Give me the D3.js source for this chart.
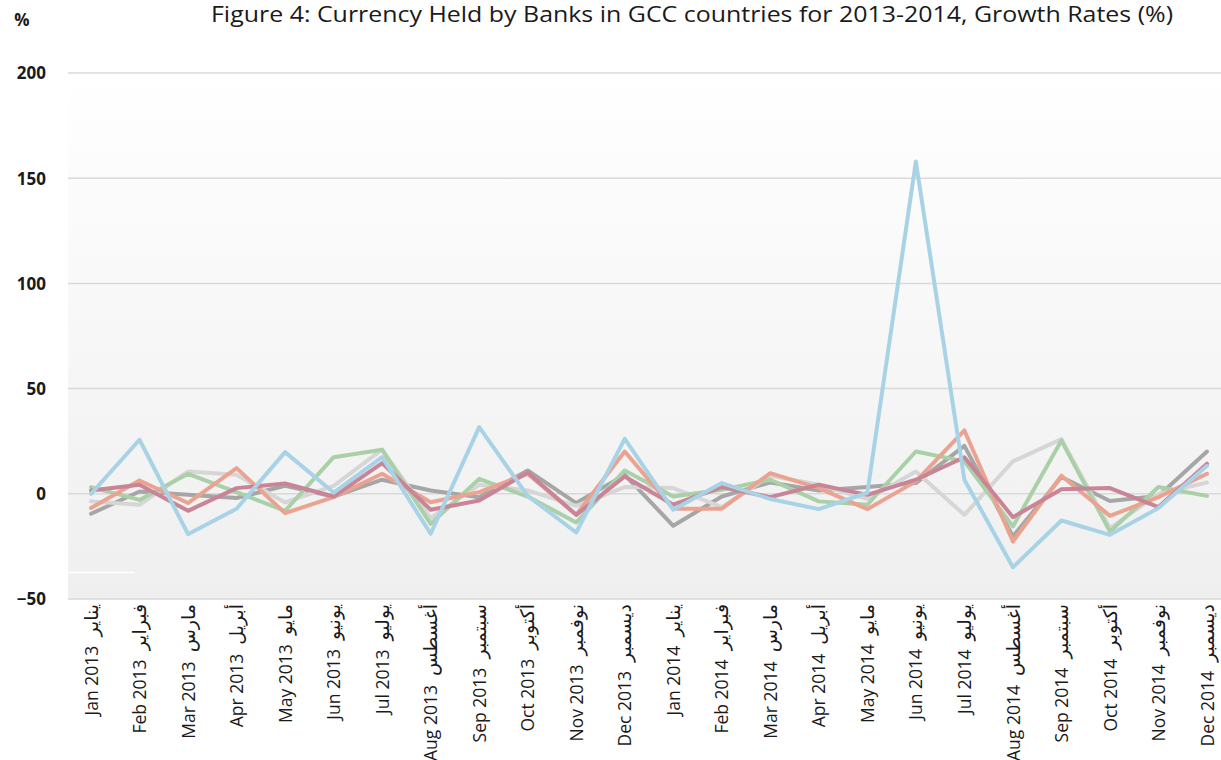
<!DOCTYPE html>
<html>
<head>
<meta charset="utf-8">
<script src="https://cdn.jsdelivr.net/npm/d3@7"></script>
<style>
  html, body { margin: 0; padding: 0; background: #ffffff; }
  svg { display: block; }
</style>
</head>
<body>
<svg id="chart" width="1221" height="760"></svg>
<script>
const title = "Figure 4: Currency Held by Banks in GCC countries for 2013-2014, Growth Rates (%)";
const categoriesEn = ["Jan 2013","Feb 2013","Mar 2013","Apr 2013","May 2013","Jun 2013","Jul 2013","Aug 2013","Sep 2013","Oct 2013","Nov 2013","Dec 2013",
                      "Jan 2014","Feb 2014","Mar 2014","Apr 2014","May 2014","Jun 2014","Jul 2014","Aug 2014","Sep 2014","Oct 2014","Nov 2014","Dec 2014"];
const categoriesAr = ["يناير","فبراير","مارس","أبريل","مايو","يونيو","يوليو","أغسطس","سبتمبر","أكتوبر","نوفمبر","ديسمبر",
                      "يناير","فبراير","مارس","أبريل","مايو","يونيو","يوليو","أغسطس","سبتمبر","أكتوبر","نوفمبر","ديسمبر"];
const yTicks = [-50, 0, 50, 100, 150, 200];

const seriesDarkGray  = [-9.5, 1.1, -0.5, -2.0, 3.8, -1.3, 6.7, 1.6, -1.6, 11.1, -4.4, 9.0, -15.2, -1.3, 5.4, 1.6, 3.2, 5.1, 22.8, -20.3, 8.0, -3.4, -1.0, 20.1];
const seriesLightGray = [-3.6, -5.2, 10.6, 9.0, -4.1, 3.8, 21.0, -11.6, 4.3, 1.6, -5.7, 3.2, 2.7, -6.3, 8.6, 4.3, -2.5, 10.6, -10.0, 15.4, 26.0, -16.3, 0.0, 5.4];
const seriesGreen     = [3.2, -2.9, 9.5, 0.8, -8.1, 17.4, 20.9, -14.3, 7.1, -1.3, -13.6, 11.1, -1.3, 1.9, 6.7, -3.6, -5.2, 20.1, 15.4, -15.5, 25.3, -17.9, 3.2, -1.0];
const seriesOrange    = [-6.8, 6.3, -4.4, 12.2, -9.2, -1.6, 9.5, -4.0, 0.8, 9.5, -10.0, 20.1, -7.1, -7.1, 9.8, 2.7, -7.3, 5.9, 30.1, -22.7, 8.6, -10.5, -1.6, 9.5];
const seriesMauve     = [1.6, 4.3, -8.1, 2.7, 4.9, -1.3, 14.6, -7.6, -3.2, 10.1, -10.0, 8.2, -5.2, 3.2, -1.6, 4.3, -0.5, 6.7, 17.4, -11.1, 2.2, 2.7, -6.3, 14.3];
const seriesBlue      = [0.0, 25.7, -19.2, -7.1, 19.8, 0.6, 17.4, -19.0, 31.7, -1.0, -18.4, 26.1, -7.6, 5.1, -2.5, -7.3, 0.5, 157.9, 6.7, -34.9, -12.7, -19.5, -6.8, 13.3];

const series = [
  {name: "darkgray",  values: seriesDarkGray,  color: "#a6a6a6"},
  {name: "lightgray", values: seriesLightGray, color: "#d6d6d6"},
  {name: "green",     values: seriesGreen,     color: "#a9d0a7"},
  {name: "orange",    values: seriesOrange,    color: "#eba391"},
  {name: "mauve",     values: seriesMauve,     color: "#c98597"},
  {name: "blue",      values: seriesBlue,      color: "#a8d3e6"}
];

const svg = d3.select("#chart");
const plotLeft = 68, plotRight = 1221, plotTop = 73, plotBottom = 599;

const x = d3.scalePoint().domain(categoriesEn).range([91, 1207]);
const y = d3.scaleLinear().domain([-50, 200]).range([plotBottom, plotTop]);

// background gradient
const defs = svg.append("defs");
const grad = defs.append("linearGradient").attr("id", "bg").attr("x1", 0).attr("y1", 0).attr("x2", 0).attr("y2", 1);
grad.append("stop").attr("offset", "0%").attr("stop-color", "#ffffff");
grad.append("stop").attr("offset", "100%").attr("stop-color", "#efefef");
svg.append("rect").attr("x", plotLeft).attr("y", plotTop).attr("width", plotRight - plotLeft).attr("height", plotBottom - plotTop).attr("fill", "url(#bg)");

// gridlines
svg.append("g").selectAll("line").data(yTicks).join("line")
  .attr("x1", plotLeft).attr("x2", plotRight)
  .attr("y1", d => y(d)).attr("y2", d => y(d))
  .attr("stroke", "#d9d9d9").attr("stroke-width", 1.5);

// small white artifact line
svg.append("line").attr("x1", plotLeft).attr("x2", 135).attr("y1", 572.5).attr("y2", 572.5)
  .attr("stroke", "#ffffff").attr("stroke-width", 1.5);

// y-axis labels
const yAxis = d3.axisLeft(y).tickValues(yTicks).tickSize(0).tickPadding(0).tickFormat(d3.format("d"));
const yg = svg.append("g").attr("transform", "translate(46,0)").call(yAxis);
yg.select(".domain").remove();
yg.selectAll("text")
  .attr("font-family", "'Open Sans', 'Liberation Sans', sans-serif")
  .attr("font-size", 17).attr("font-weight", "bold").attr("fill", "#1a1a1a")
  .attr("dy", "0.35em");

// % label
svg.append("text").attr("x", 22).attr("y", 26).attr("text-anchor", "middle")
  .attr("font-family", "'Open Sans', 'Liberation Sans', sans-serif")
  .attr("font-size", 17).attr("font-weight", "bold").attr("fill", "#1a1a1a").text("%");

// title
svg.append("text").attr("x", 692).attr("y", 22).attr("text-anchor", "middle")
  .attr("font-family", "'Open Sans', 'Liberation Sans', sans-serif")
  .attr("font-size", 21).attr("fill", "#1a1a1a")
  .attr("textLength", 962).attr("lengthAdjust", "spacingAndGlyphs")
  .text(title);

// x-axis labels (English + Arabic)
const xAxis = d3.axisBottom(x).tickSize(0).tickFormat(d => d);
const xg = svg.append("g").attr("transform", `translate(0,${plotBottom})`).call(xAxis);
xg.select(".domain").remove();
xg.selectAll("text")
  .attr("font-family", "'Open Sans', 'DejaVu Sans', sans-serif")
  .attr("font-size", 17.5).attr("fill", "#1a1a1a")
  .attr("text-anchor", "end")
  .attr("transform", "rotate(-90)")
  .attr("x", -5).attr("y", 0).attr("dy", "0.35em")
  .each(function(d, i) {
    const t = d3.select(this);
    t.text(null);
    t.append("tspan").text(d + "\u00A0\u00A0");
    t.append("tspan").attr("font-family", "'DejaVu Sans', sans-serif").attr("font-size", 19).text(categoriesAr[i]);
  });

// lines
const line = d3.line().x((d, i) => x(categoriesEn[i])).y(d => y(d));
svg.append("g").selectAll("path").data(series).join("path")
  .attr("d", d => line(d.values))
  .attr("fill", "none")
  .attr("stroke", d => d.color)
  .attr("stroke-width", 4)
  .attr("stroke-linejoin", "round")
  .attr("stroke-linecap", "round");
</script>
</body>
</html>
